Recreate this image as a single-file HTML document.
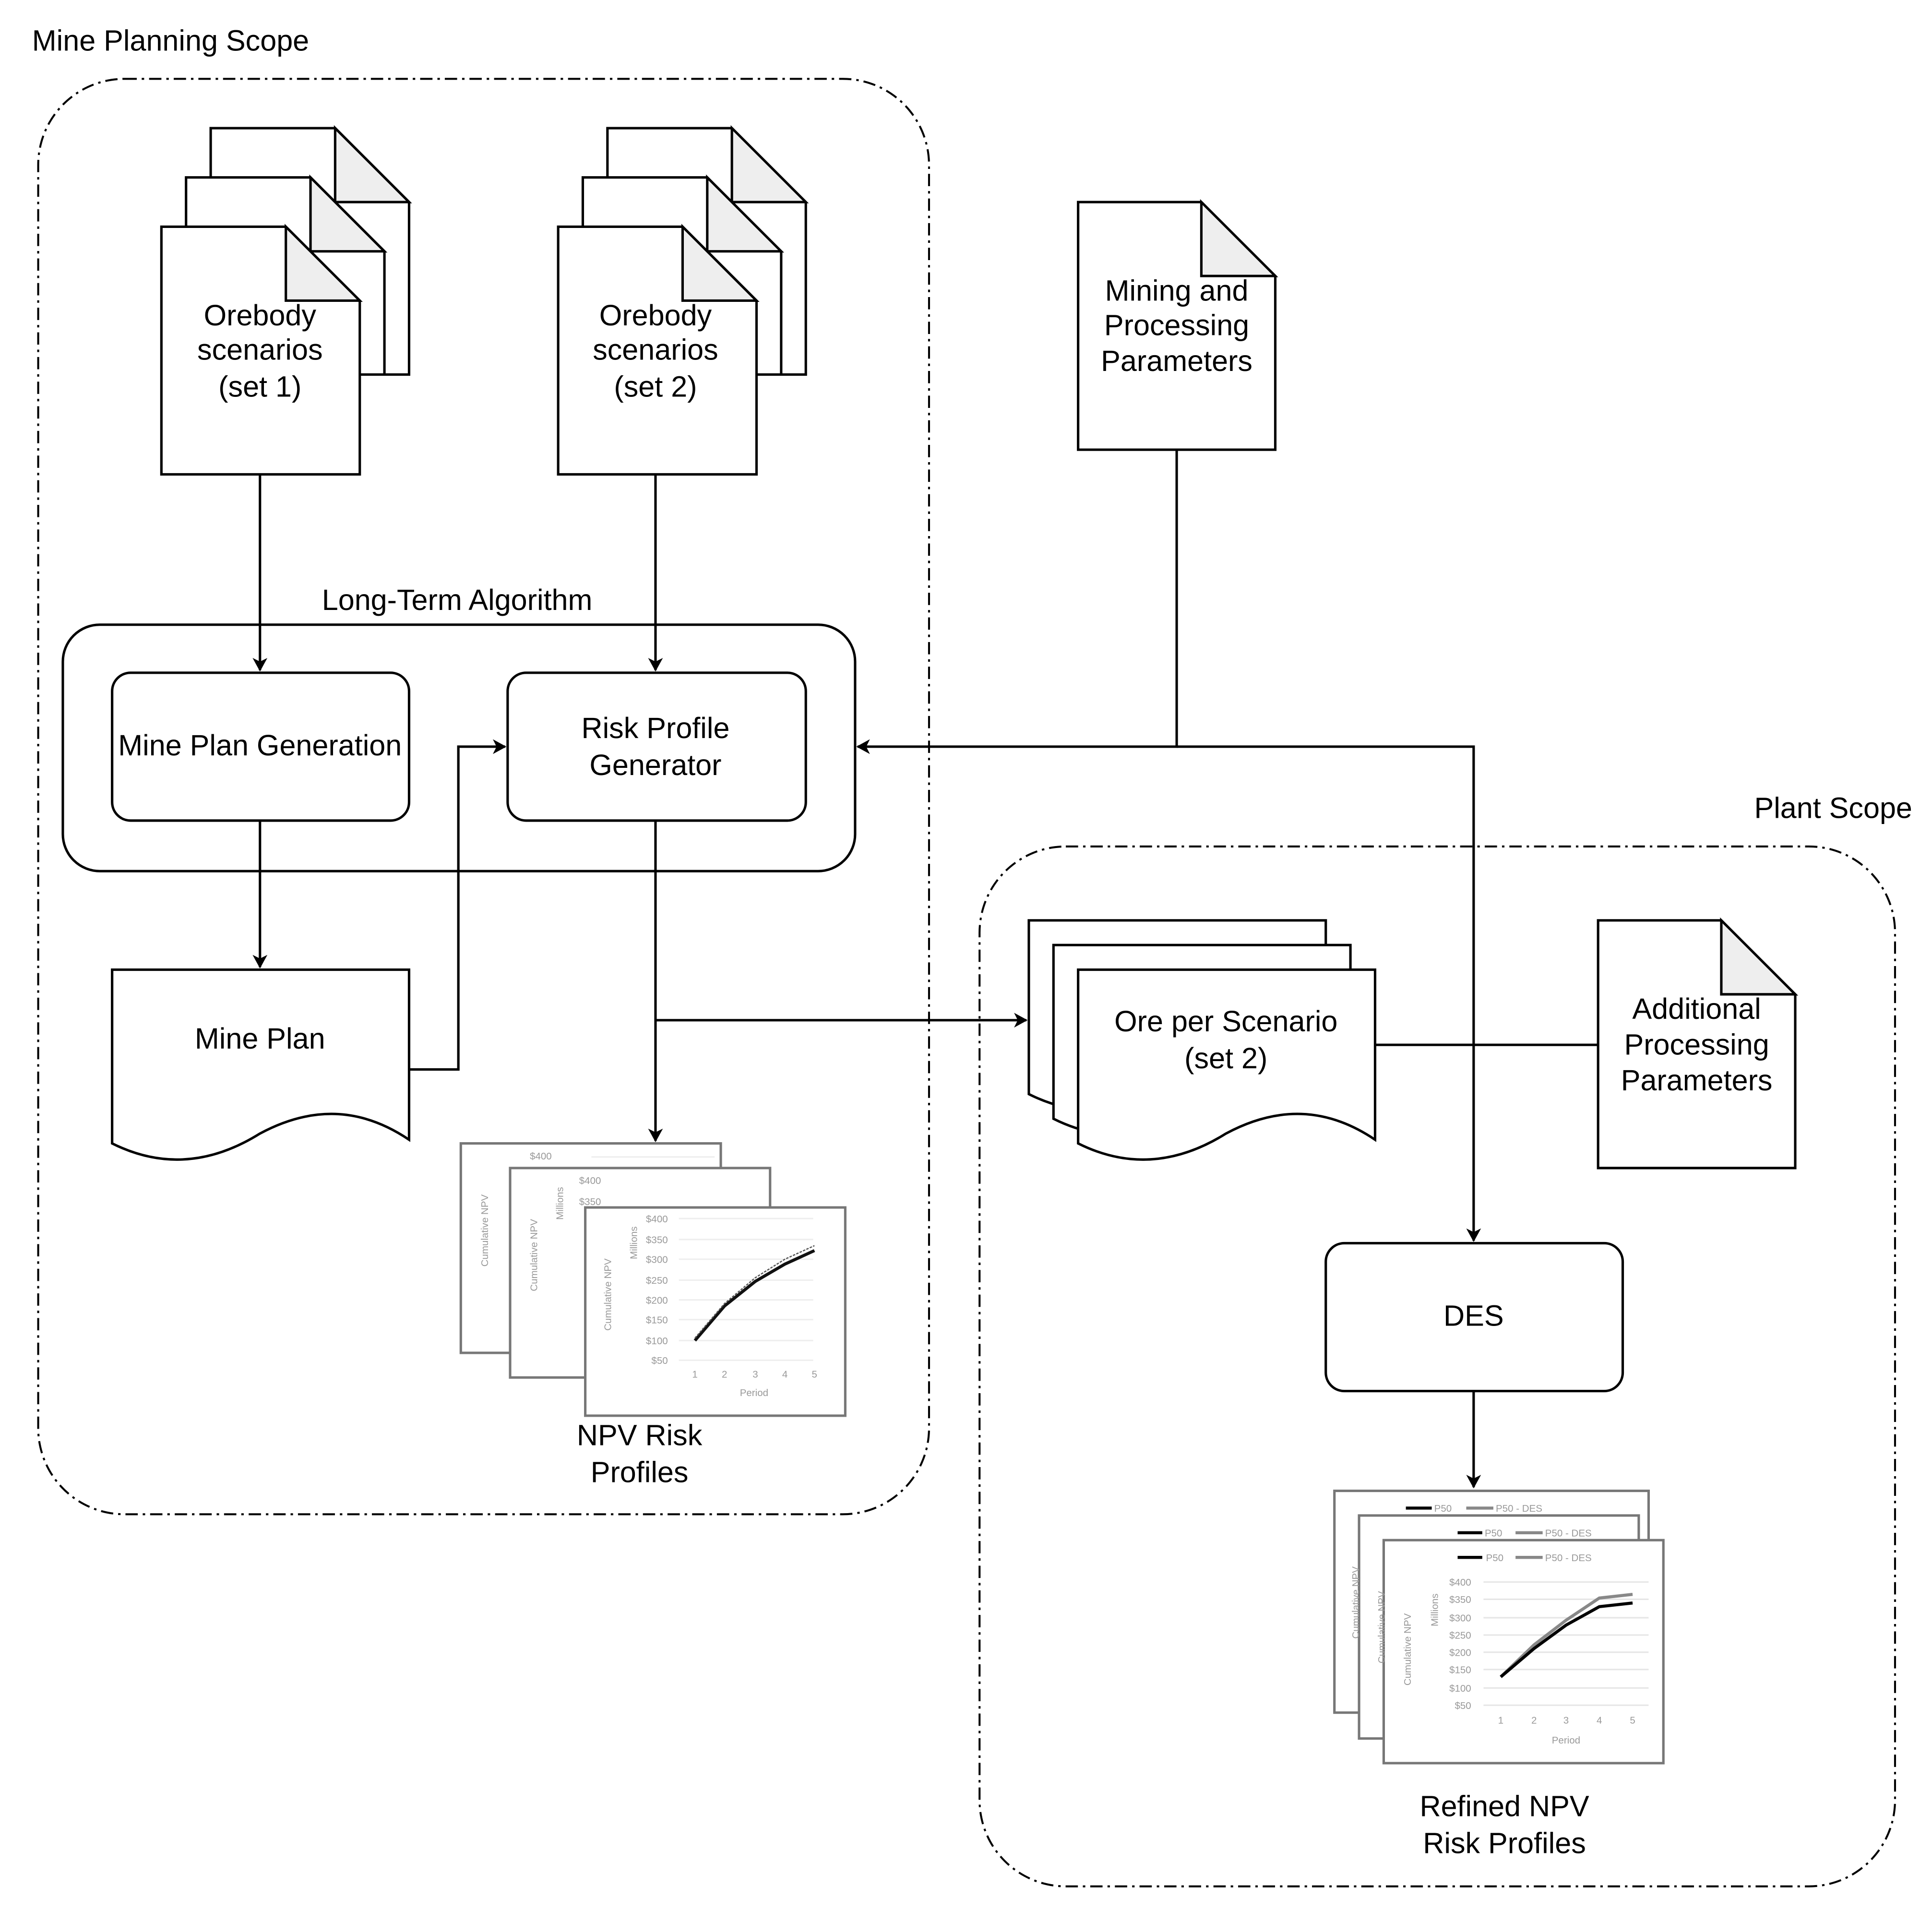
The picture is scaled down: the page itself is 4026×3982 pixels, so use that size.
<!DOCTYPE html>
<html><head><meta charset="utf-8"><style>
html,body{margin:0;padding:0;background:#fff;}
svg{display:block;}
text{font-family:"Liberation Sans",sans-serif;}
</style></head><body>
<svg width="4026" height="3982" viewBox="0 0 1568 1551" preserveAspectRatio="none" xmlns="http://www.w3.org/2000/svg">
<defs>
<marker id="a" markerWidth="12" markerHeight="12" refX="10" refY="6" orient="auto" markerUnits="userSpaceOnUse">
<path d="M0,0 L11,6 L0,12 L3,6 z" fill="#000"/></marker>
</defs>
<rect width="1568" height="1551" fill="#fff"/>
<g fill="none" stroke="#000" stroke-width="1.6" stroke-dasharray="10 4 2 4">
<rect x="31" y="64" width="723" height="1165" rx="70"/>
<rect x="795" y="687" width="743" height="844" rx="70"/>
</g>
<g font-size="23.8" fill="#000">
<text x="26" y="41">Mine Planning Scope</text>
<text x="1552" y="664" text-anchor="end">Plant Scope</text>
<text x="371" y="495" text-anchor="middle">Long-Term Algorithm</text>
</g>
<g stroke="#000" stroke-width="2" fill="#fff">
<path d="M171,104 H272 L332,164 V304 H171 Z"/><path d="M272,104 V164 H332 Z" fill="#eee"/>
<path d="M151,144 H252 L312,204 V304 H151 Z"/><path d="M252,144 V204 H312 Z" fill="#eee"/>
<path d="M131,184 H232 L292,244 V385 H131 Z"/><path d="M232,184 V244 H292 Z" fill="#eee"/>
<path d="M493,104 H594 L654,164 V304 H493 Z"/><path d="M594,104 V164 H654 Z" fill="#eee"/>
<path d="M473,144 H574 L634,204 V304 H473 Z"/><path d="M574,144 V204 H634 Z" fill="#eee"/>
<path d="M453,184 H554 L614,244 V385 H453 Z"/><path d="M554,184 V244 H614 Z" fill="#eee"/>
<path d="M875,164 H975 L1035,224 V365 H875 Z"/><path d="M975,164 V224 H1035 Z" fill="#eee"/>
<path d="M1297,747 H1397 L1457,807 V948 H1297 Z"/><path d="M1397,747 V807 H1457 Z" fill="#eee"/>
<rect x="51" y="507" width="643" height="200" rx="30"/>
<rect x="91" y="546" width="241" height="120" rx="15"/>
<rect x="412" y="546" width="242" height="120" rx="15"/>
<rect x="1076" y="1009" width="241" height="120" rx="15"/>
<path d="M91,787 H332 V925 C292,898 252,898 211,920 C171,945 131,948 91,928 Z"/>
<path d="M835,747 H1076 V885 C1036,858 996,858 955,880 C915,905 875,908 835,888 Z"/>
<path d="M855,767 H1096 V905 C1056,878 1016,878 975,900 C935,925 895,928 855,908 Z"/>
<path d="M875,787 H1116 V925 C1076,898 1036,898 995,920 C955,945 915,948 875,928 Z"/>
</g>
<g stroke="#000" stroke-width="2" fill="none">
<path d="M211,385 V544" marker-end="url(#a)"/>
<path d="M532,385 V544" marker-end="url(#a)"/>
<path d="M211,666 V785" marker-end="url(#a)"/>
<path d="M332,868 H372 V606 H410" marker-end="url(#a)"/>
<path d="M955,365 V606 H696" marker-end="url(#a)"/>
<path d="M955,606 H1196 V1007" marker-end="url(#a)"/>
<path d="M532,666 V926" marker-end="url(#a)"/>
<path d="M532,828 H833" marker-end="url(#a)"/>
<path d="M1116,848 H1297"/>
<path d="M1196,1129 V1207" marker-end="url(#a)"/>
</g>
<g font-size="23.8" fill="#000" text-anchor="middle">
<text x="211" y="264">Orebody</text><text x="211" y="292">scenarios</text><text x="211" y="322">(set 1)</text>
<text x="532" y="264">Orebody</text><text x="532" y="292">scenarios</text><text x="532" y="322">(set 2)</text>
<text x="955" y="244">Mining and</text><text x="955" y="272">Processing</text><text x="955" y="301">Parameters</text>
<text x="211" y="613">Mine Plan Generation</text>
<text x="532" y="599">Risk Profile</text><text x="532" y="629">Generator</text>
<text x="211" y="851">Mine Plan</text>
<text x="995" y="837">Ore per Scenario</text><text x="995" y="867">(set 2)</text>
<text x="1377" y="827">Additional</text><text x="1377" y="856">Processing</text><text x="1377" y="885">Parameters</text>
<text x="1196" y="1076">DES</text>
<text x="519" y="1173">NPV Risk</text><text x="519" y="1203">Profiles</text>
<text x="1221" y="1474">Refined NPV</text><text x="1221" y="1504">Risk Profiles</text>
</g>
<g stroke="#777" stroke-width="2" fill="#fff">
<rect x="374" y="928" width="211" height="170"/>
<rect x="414" y="948" width="211" height="170"/>
<rect x="475" y="980" width="211" height="169"/>
</g>
<g font-size="8" fill="#999">
<text x="430" y="941">$400</text>
<text x="470" y="961">$400</text><text x="470" y="978">$350</text>
<text transform="translate(396,1028) rotate(-90)">Cumulative NPV</text>
<text transform="translate(436,1048) rotate(-90)">Cumulative NPV</text>
<text transform="translate(496,1080) rotate(-90)">Cumulative NPV</text>
<text transform="translate(457,990) rotate(-90)">Millions</text>
<text transform="translate(517,1022) rotate(-90)">Millions</text>
<g text-anchor="end">
<text x="542" y="992">$400</text><text x="542" y="1009">$350</text><text x="542" y="1025">$300</text><text x="542" y="1042">$250</text>
<text x="542" y="1058">$200</text><text x="542" y="1074">$150</text><text x="542" y="1091">$100</text><text x="542" y="1107">$50</text>
</g>
<g text-anchor="middle"><text x="564" y="1118">1</text><text x="588" y="1118">2</text><text x="613" y="1118">3</text><text x="637" y="1118">4</text><text x="661" y="1118">5</text><text x="612" y="1133">Period</text></g>
</g>
<g stroke="#eee" stroke-width="1.2">
<path d="M480,939H580M551,989H660M551,1006H660M551,1022H660M551,1039H660M551,1055H660M551,1071H660M551,1088H660M551,1104H660"/>
</g>
<path d="M564,1088 L588,1060 L613,1040 L637,1026 L661,1015" stroke="#111" stroke-width="2.5" fill="none"/>
<path d="M564,1086 L588,1058 L613,1037 L637,1022 L661,1011" stroke="#555" stroke-width="1" stroke-dasharray="2 1" fill="none"/>
<g stroke="#777" stroke-width="2" fill="#fff">
<rect x="1083" y="1210" width="255" height="180"/>
<rect x="1103" y="1230" width="227" height="181"/>
<rect x="1123" y="1250" width="227" height="181"/>
</g>
<g stroke-width="2.5">
<path d="M1141,1224H1162M1183,1244H1203M1183,1264H1203" stroke="#000"/>
<path d="M1190,1224H1212M1230,1244H1252M1230,1264H1252" stroke="#888"/>
</g>
<g font-size="8" fill="#999">
<text x="1164" y="1227">P50</text><text x="1214" y="1227">P50 - DES</text>
<text x="1205" y="1247">P50</text><text x="1254" y="1247">P50 - DES</text>
<text x="1206" y="1267">P50</text><text x="1254" y="1267">P50 - DES</text>
<text transform="translate(1103,1330) rotate(-90)">Cumulative NPV</text>
<text transform="translate(1124,1350) rotate(-90)">Cumulative NPV</text>
<text transform="translate(1145,1368) rotate(-90)">Cumulative NPV</text>
<text transform="translate(1167,1320) rotate(-90)">Millions</text>
<g text-anchor="end">
<text x="1194" y="1287">$400</text><text x="1194" y="1301">$350</text><text x="1194" y="1316">$300</text><text x="1194" y="1330">$250</text>
<text x="1194" y="1344">$200</text><text x="1194" y="1358">$150</text><text x="1194" y="1373">$100</text><text x="1194" y="1387">$50</text>
</g>
<g text-anchor="middle"><text x="1218" y="1399">1</text><text x="1245" y="1399">2</text><text x="1271" y="1399">3</text><text x="1298" y="1399">4</text><text x="1325" y="1399">5</text><text x="1271" y="1415">Period</text></g>
</g>
<g stroke="#e6e6e6" stroke-width="1.2">
<path d="M1204,1284H1338M1204,1298H1338M1204,1313H1338M1204,1327H1338M1204,1341H1338M1204,1355H1338M1204,1370H1338M1204,1384H1338"/>
</g>
<path d="M1218,1361 L1245,1335 L1271,1315 L1298,1297 L1325,1294" stroke="#888" stroke-width="2.5" fill="none"/>
<path d="M1218,1361 L1245,1338 L1271,1319 L1298,1304 L1325,1301" stroke="#000" stroke-width="2.5" fill="none"/>
</svg>
</body></html>
